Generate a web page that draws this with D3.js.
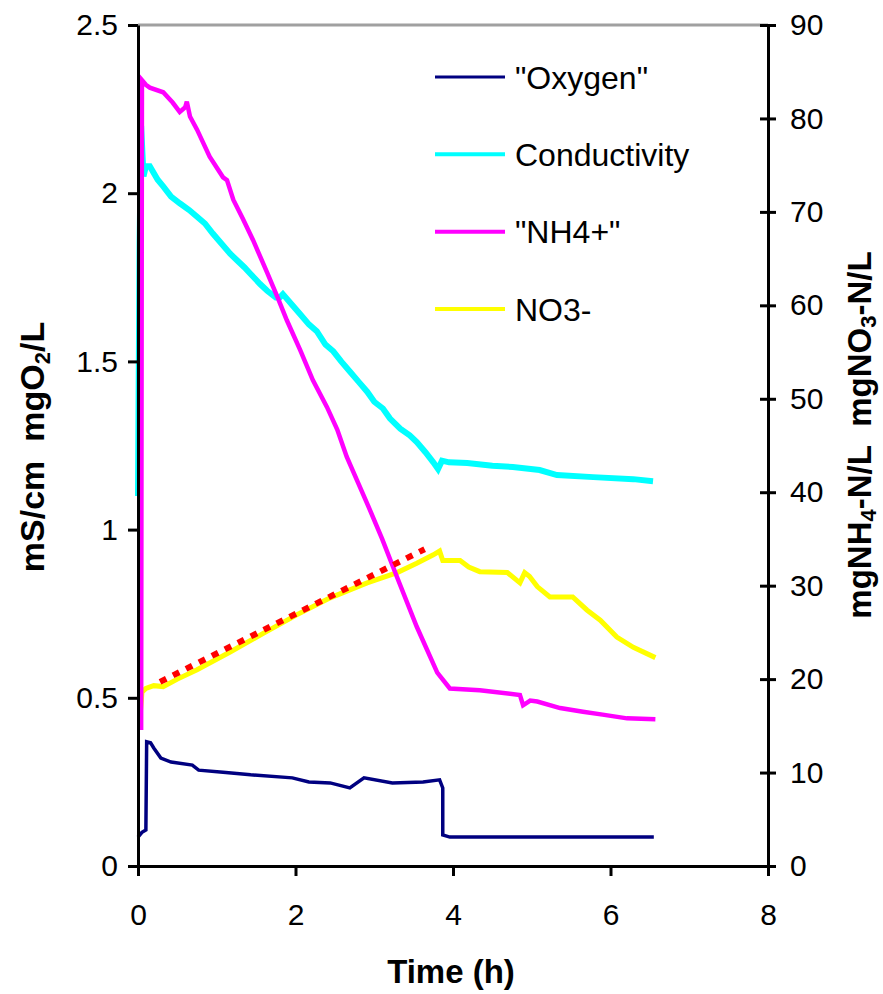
<!DOCTYPE html>
<html>
<head>
<meta charset="utf-8">
<script src="https://cdn.jsdelivr.net/npm/d3@7"></script>
<style>
    body { margin: 0; background: #fff; }
    text { font-family: Arial, "Liberation Sans", sans-serif; }
</style>
</head>
<body>
<div class="container"></div>
<script>
// time in hours, left axis (mS/cm, mgO2/L)
var oxygen = [[0,0.086],[0.05,0.10],[0.1,0.107],[0.11,0.369],[0.16,0.366],[0.20,0.351],[0.29,0.321],
    [0.42,0.309],[0.69,0.300],[0.77,0.285],[1.08,0.279],[1.43,0.271],[1.96,0.262],[2.17,0.25],
    [2.44,0.247],[2.69,0.232],[2.87,0.262],[3.23,0.247],[3.62,0.25],[3.83,0.256],[3.87,0.232],
    [3.87,0.092],[3.96,0.086],[6.55,0.086]];

var conductivity = [[0,1.10],[0.02,1.85],[0.04,2.20],[0.07,2.05],[0.1,2.08],[0.15,2.08],[0.25,2.04],
    [0.32,2.02],[0.42,1.99],[0.53,1.97],[0.65,1.95],[0.75,1.93],[0.85,1.91],[0.95,1.88],[1.17,1.82],
    [1.26,1.80],[1.35,1.78],[1.43,1.76],[1.55,1.73],[1.64,1.71],[1.75,1.69],[1.80,1.69],[1.84,1.70],
    [1.95,1.67],[2.06,1.64],[2.17,1.61],[2.27,1.59],[2.38,1.55],[2.48,1.53],[2.58,1.50],[2.69,1.47],
    [2.80,1.44],[2.91,1.41],[3.0,1.38],[3.11,1.36],[3.2,1.33],[3.33,1.30],[3.45,1.28],[3.54,1.26],
    [3.65,1.23],[3.75,1.20],[3.81,1.18],[3.86,1.205],[3.95,1.20],[4.18,1.198],[4.5,1.19],[4.76,1.186],
    [5.1,1.177],[5.32,1.162],[5.78,1.156],[6.29,1.150],[6.54,1.144]];

// right axis (mg N/L)
var nh4 = [[0,14.8],[0.04,14.8],[0.05,84.1],[0.1,83.6],[0.15,83.3],[0.32,82.8],[0.44,81.7],[0.53,80.7],
    [0.6,81.2],[0.62,81.8],[0.66,80.2],[0.75,78.8],[0.91,75.9],[1.08,73.7],[1.13,73.4],[1.21,71.3],
    [1.33,69.3],[1.46,67.0],[1.64,63.5],[1.77,60.9],[1.89,58.4],[2.06,55.2],[2.22,52.0],[2.40,49.1],
    [2.53,46.7],[2.65,43.8],[2.78,41.3],[2.92,38.6],[3.10,35.0],[3.29,30.9],[3.54,25.6],[3.80,20.7],
    [3.96,19.0],[4.34,18.8],[4.85,18.3],[4.89,17.2],[4.98,17.7],[5.07,17.6],[5.36,16.9],[5.65,16.5],
    [5.90,16.2],[6.21,15.8],[6.57,15.7]];

var no3 = [[0,16.4],[0.03,16.4],[0.05,18.6],[0.1,19.0],[0.2,19.3],[0.32,19.2],[0.5,20.0],[0.75,21.0],
    [1.17,22.9],[1.59,24.9],[2.02,26.9],[2.44,28.7],[2.91,30.3],[3.29,31.4],[3.54,32.4],[3.75,33.3],
    [3.83,33.7],[3.87,32.7],[4.09,32.7],[4.20,32.0],[4.34,31.5],[4.69,31.4],[4.85,30.3],[4.91,31.4],
    [4.97,31.0],[5.07,29.9],[5.23,28.8],[5.52,28.8],[5.70,27.4],[5.87,26.3],[6.08,24.5],[6.29,23.4],
    [6.57,22.3]];

var no3Trend = [[0.28,19.7],[3.64,33.9]];

var legendNames = ['"Oxygen"', 'Conductivity', '"NH4+"', 'NO3-'];
var legendColors = ['#000080', '#00FFFF', '#FF00FF', '#FFFF00'];

var xTicks = [0, 2, 4, 6, 8];
var leftTicks = [0, 0.5, 1, 1.5, 2, 2.5];
var rightTicks = [0, 10, 20, 30, 40, 50, 60, 70, 80, 90];

const WIDTH = 883;
const HEIGHT = 994;
const LEFT = 138;
const RIGHT = 768;
const TOP = 25;
const BOTTOM = 866;

var svg = d3.select('.container').append('svg')
    .attr('width', WIDTH)
    .attr('height', HEIGHT);

var xScale = d3.scaleLinear().domain([0, 8]).range([LEFT, RIGHT]);
var yLeft = d3.scaleLinear().domain([0, 2.5]).range([BOTTOM, TOP]);
var yRight = d3.scaleLinear().domain([0, 90]).range([BOTTOM, TOP]);

// top border of plot area
svg.append('line')
    .attr('x1', LEFT).attr('x2', RIGHT)
    .attr('y1', TOP).attr('y2', TOP)
    .attr('stroke', '#a0a0a0')
    .attr('stroke-width', 3);

var lineLeft = d3.line()
    .x(function (d) { return xScale(d[0]); })
    .y(function (d) { return yLeft(d[1]); });

var lineRight = d3.line()
    .x(function (d) { return xScale(d[0]); })
    .y(function (d) { return yRight(d[1]); });

var drawSeries = function (data, line, color, width) {
    return svg.append('path')
        .attr('d', line(data))
        .attr('fill', 'none')
        .attr('stroke', color)
        .attr('stroke-width', width)
        .attr('stroke-linejoin', 'miter');
};

drawSeries(oxygen, lineLeft, '#000080', 3.5);
drawSeries(conductivity, lineLeft, '#00FFFF', 6);
drawSeries(no3, lineRight, '#FFFF00', 5);
drawSeries(nh4, lineRight, '#FF00FF', 4.5);
drawSeries(no3Trend, lineRight, '#FF0000', 6)
    .attr('stroke-dasharray', '7 7.5');

var styleAxis = function (g) {
    g.select('.domain').attr('stroke', '#000').attr('stroke-width', 3);
    g.selectAll('.tick line').attr('stroke', '#000').attr('stroke-width', 3);
    g.selectAll('.tick text')
        .attr('font-size', 30)
        .attr('fill', '#000')
        .style('font-family', 'Arial, "Liberation Sans", sans-serif');
};

var fmt = function (d) { return String(d); };

var gLeft = svg.append('g')
    .attr('transform', 'translate(' + LEFT + ',0)')
    .call(d3.axisLeft(yLeft).tickValues(leftTicks).tickFormat(fmt)
        .tickSize(10).tickSizeOuter(0).tickPadding(10));
styleAxis(gLeft);

var gRight = svg.append('g')
    .attr('transform', 'translate(' + RIGHT + ',0)')
    .call(d3.axisRight(yRight).tickValues(rightTicks).tickFormat(fmt)
        .tickSize(8).tickSizeOuter(0).tickPadding(14));
styleAxis(gRight);
gRight.selectAll('.tick line').attr('x1', -8).attr('x2', 8);

var gBottom = svg.append('g')
    .attr('transform', 'translate(0,' + BOTTOM + ')')
    .call(d3.axisBottom(xScale).tickValues(xTicks).tickFormat(fmt)
        .tickSize(10).tickSizeOuter(0).tickPadding(28));
styleAxis(gBottom);

// axis titles
svg.append('text')
    .attr('x', 451).attr('y', 983)
    .attr('text-anchor', 'middle')
    .attr('font-size', 33)
    .attr('font-weight', 'bold')
    .text('Time (h)');

var leftTitle = svg.append('text')
    .attr('transform', 'translate(44,447) rotate(-90)')
    .attr('text-anchor', 'middle')
    .attr('font-size', 34)
    .attr('font-weight', 'bold');
leftTitle.append('tspan').text('mS/cm\u00a0\u00a0mgO');
leftTitle.append('tspan').attr('font-size', 22).attr('dy', 6).text('2');
leftTitle.append('tspan').attr('dy', -6).text('/L');

var rightTitle = svg.append('text')
    .attr('transform', 'translate(871,435) rotate(-90)')
    .attr('text-anchor', 'middle')
    .attr('font-size', 33)
    .attr('font-weight', 'bold');
rightTitle.append('tspan').text('mgNH');
rightTitle.append('tspan').attr('font-size', 22).attr('dy', 5).text('4');
rightTitle.append('tspan').attr('dy', -5).text('-N/L\u00a0\u00a0mgNO');
rightTitle.append('tspan').attr('font-size', 22).attr('dy', 5).text('3');
rightTitle.append('tspan').attr('dy', -5).text('-N/L');

// legend
var legendY = d3.scalePoint().domain(legendNames).range([77, 309]);

var legend = svg.selectAll('.legend')
    .data(legendNames)
    .enter().append('g')
    .attr('class', 'legend')
    .attr('transform', function (d) { return 'translate(0,' + legendY(d) + ')'; });

legend.append('line')
    .attr('x1', 435).attr('x2', 505)
    .attr('stroke', function (d, i) { return legendColors[i]; })
    .attr('stroke-width', function (d, i) { return i == 0 ? 3 : 4; });

legend.append('text')
    .attr('x', 515)
    .attr('dy', '0.36em')
    .attr('font-size', 32)
    .text(function (d) { return d; });
</script>
</body>
</html>
